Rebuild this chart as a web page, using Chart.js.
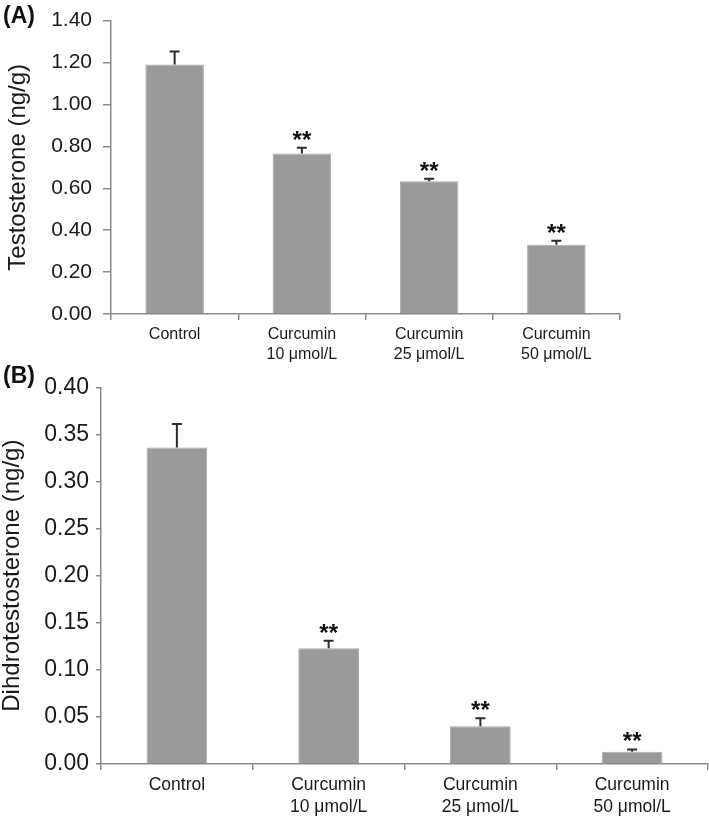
<!DOCTYPE html>
<html>
<head>
<meta charset="utf-8">
<script src="https://cdn.jsdelivr.net/npm/chart.js@4"></script>
<style>
  html, body { margin: 0; padding: 0; background: #fff; }
  #wrap { position: relative; width: 709px; height: 816px; overflow: hidden; }
  canvas { position: absolute; left: 0; }
  #chartA { top: -3px; }
  #chartB { top: 360px; }
</style>
</head>
<body>
<div id="wrap">
  <canvas id="chartA" width="709" height="385"></canvas>
  <canvas id="chartB" width="709" height="456"></canvas>
</div>
<script>
const categories = [["Control"], ["Curcumin", "10 μmol/L"], ["Curcumin", "25 μmol/L"], ["Curcumin", "50 μmol/L"]];
const testosterone = [1.19, 0.766, 0.633, 0.330];
const testosteroneErr = [0.063, 0.027, 0.012, 0.019];
const dht = [0.336, 0.123, 0.040, 0.013];
const dhtErr = [0.025, 0.008, 0.0085, 0.0025];
const marks = ["", "**", "**", "**"];

const FONT = "'Liberation Sans', Arial, sans-serif";
const AXIS = "#898989";
const BAR = "#9a9a9a";

// error bars, significance marks and panel letter
const extras = {
    id: "extras",
    afterDatasetsDraw(chart, args, opts){
        const ctx = chart.ctx;
        const y = chart.scales.y;
        const meta = chart.getDatasetMeta(0);
        ctx.save();
        meta.data.forEach((bar, i) => {
            const top = y.getPixelForValue(opts.values[i] + opts.errors[i]);
            ctx.strokeStyle = "#2b2b2b";
            ctx.lineWidth = 2;
            ctx.beginPath();
            ctx.moveTo(bar.x, bar.y);
            ctx.lineTo(bar.x, top);
            ctx.moveTo(bar.x - 5, top);
            ctx.lineTo(bar.x + 5, top);
            ctx.stroke();
            if(marks[i]){
                ctx.fillStyle = "#111";
                ctx.font = "bold 24px " + FONT;
                ctx.textAlign = "center";
                ctx.textBaseline = "alphabetic";
                ctx.fillText(marks[i], bar.x, top);
            }
        });
        ctx.fillStyle = "#111";
        ctx.font = "bold 23px " + FONT;
        ctx.textAlign = "left";
        ctx.textBaseline = "middle";
        ctx.fillText(opts.letter, 3, opts.letterY);
        ctx.restore();
    }
};

function makeChart(id, values, errors, cfg){
    return new Chart(document.getElementById(id), {
        type: "bar",
        data: {
            labels: categories,
            datasets: [{
                data: values,
                backgroundColor: BAR,
                borderColor: "#a8a8a8",
                borderWidth: 1,
                barPercentage: 1,
                categoryPercentage: cfg.catPct
            }]
        },
        options: {
            responsive: false,
            animation: false,
            events: [],
            layout: { padding: { top: cfg.padTop, right: cfg.padRight, left: 0, bottom: 0 } },
            plugins: {
                legend: { display: false },
                tooltip: { enabled: false },
                extras: { values: values, errors: errors, letter: cfg.letter, letterY: cfg.letterY }
            },
            scales: {
                x: {
                    offset: true,
                    grid: { offset: true, drawOnChartArea: false, drawTicks: true, tickLength: 6, color: AXIS, lineWidth: 1.5 },
                    border: { color: AXIS, width: 1.5 },
                    ticks: { color: "#1a1a1a", padding: cfg.xPad, maxRotation: 0, autoSkip: false,
                             font: { family: FONT, size: cfg.xFont, lineHeight: 1.25 } },
                    afterFit(scale){ scale.height = cfg.xHeight; }
                },
                y: {
                    min: 0,
                    max: cfg.yMax,
                    grid: { drawOnChartArea: false, drawTicks: true, tickLength: cfg.yTick, color: AXIS, lineWidth: 1.5 },
                    border: { color: AXIS, width: 1.5 },
                    ticks: { stepSize: cfg.step, color: "#1a1a1a", padding: cfg.yPad,
                             font: { family: FONT, size: cfg.yFont },
                             callback: v => v.toFixed(2) },
                    title: { display: true, text: cfg.title, color: "#1a1a1a",
                             padding: { top: cfg.titlePad, bottom: 0 },
                             font: { family: FONT, size: 24, lineHeight: cfg.titleLH } },
                    afterFit(scale){ scale.width = cfg.yWidth; }
                }
            }
        },
        plugins: [extras]
    });
}

const chartA = makeChart("chartA", testosterone, testosteroneErr, {
    catPct: 0.46, padTop: 13, padRight: 89, xPad: 5, xFont: 16, xHeight: 68,
    yMax: 1.4, step: 0.2, yTick: 8, yPad: 11, yFont: 21, yWidth: 111,
    title: "Testosterone (ng/g)", titlePad: 4, titleLH: 1.2, letter: "(A)", letterY: 20
});

const chartB = makeChart("chartB", dht, dhtErr, {
    catPct: 0.40, padTop: 27.3, padRight: 1, xPad: 4, xFont: 17.5, xHeight: 52,
    yMax: 0.4, step: 0.05, yTick: 5, yPad: 7, yFont: 23, yWidth: 101,
    title: "Dihdrotestosterone (ng/g)", titlePad: 0, titleLH: 1, letter: "(B)", letterY: 17
});
</script>
</body>
</html>
